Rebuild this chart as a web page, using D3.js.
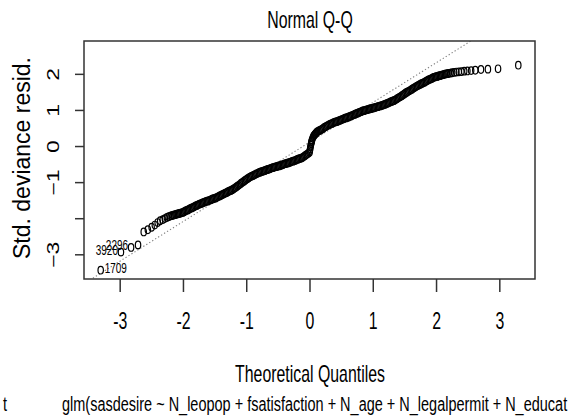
<!DOCTYPE html>
<html><head><meta charset="utf-8">
<script src="https://cdn.jsdelivr.net/npm/d3@7"></script>
<style>html,body{margin:0;padding:0;background:#fff;} svg{display:block;}</style>
</head><body>
<svg id="chart" width="578" height="419"></svg>
<script>
// Theoretical quantiles (x) and standardized deviance residuals (y)
const theoQ = [
 -3.30,-2.98,-2.82,-2.71,-2.62,-2.555,-2.495,-2.445,-2.40,-2.36,-2.32,-2.287,-2.254,-2.226,-2.198,
 -2.18,-2.16,-2.14,-2.12,-2.10,-2.08,-2.06,-2.04,-2.02,-2.00,-1.98,-1.96,-1.94,-1.92,-1.90,-1.88,-1.86,-1.84,
 -1.82,-1.80,-1.78,-1.76,-1.74,-1.72,-1.70,-1.68,-1.66,-1.64,-1.62,-1.60,-1.58,-1.56,-1.54,-1.52,-1.50,-1.48,
 -1.46,-1.44,-1.42,-1.40,-1.38,-1.36,-1.34,-1.32,-1.30,-1.28,-1.26,-1.24,-1.22,-1.20,-1.18,-1.16,-1.14,-1.12,
 -1.10,-1.08,-1.06,-1.04,-1.02,-1.00,-0.98,-0.96,-0.94,-0.92,-0.90,-0.88,-0.86,-0.84,-0.82,-0.80,-0.78,-0.76,
 -0.74,-0.72,-0.70,-0.68,-0.66,-0.64,-0.62,-0.60,-0.58,-0.56,-0.54,-0.52,-0.50,-0.48,-0.46,-0.44,-0.42,-0.40,
 -0.38,-0.36,-0.34,-0.32,-0.30,-0.28,-0.26,-0.24,-0.22,-0.20,-0.18,-0.16,-0.14,-0.12,-0.10,-0.08,-0.06,-0.04,
 -0.02,0.00,0.005,0.01,0.015,0.02,0.025,0.03,0.035,0.04,0.05,0.06,0.07,0.08,0.09,0.10,0.11,0.12,0.14,0.16,
 0.18,0.20,0.22,0.24,0.26,0.28,0.30,0.32,0.34,0.36,0.38,0.40,0.42,0.44,0.46,0.48,0.50,0.52,0.54,0.56,0.58,
 0.60,0.62,0.64,0.66,0.68,0.70,0.72,0.74,0.76,0.78,0.80,0.82,0.84,0.86,0.88,0.90,0.92,0.94,0.96,0.98,1.00,
 1.02,1.04,1.06,1.08,1.10,1.12,1.14,1.16,1.18,1.20,1.22,1.24,1.26,1.28,1.30,1.32,1.34,1.36,1.38,1.40,1.42,
 1.44,1.46,1.48,1.50,1.52,1.54,1.56,1.58,1.60,1.62,1.64,1.66,1.68,1.70,1.72,1.74,1.76,1.78,1.80,1.82,1.84,
 1.86,1.88,1.90,1.92,1.94,1.96,1.98,2.00,2.02,2.04,2.06,2.08,2.10,2.12,2.14,2.16,2.18,
 2.198,2.226,2.254,2.287,2.32,2.36,2.40,2.445,2.495,2.555,2.62,2.71,2.82,2.98,3.30
];
const devResid = [
 -3.44,-2.94,-2.81,-2.74,-2.38,-2.32,-2.25,-2.19,-2.12,-2.07,-2.04,-2.01,-1.98,-1.96,-1.94,
 -1.93,-1.92,-1.91,-1.90,-1.89,-1.88,-1.87,-1.86,-1.85,-1.84,-1.82,-1.80,-1.785,-1.77,-1.75,-1.73,-1.715,-1.70,
 -1.68,-1.66,-1.645,-1.63,-1.61,-1.60,-1.585,-1.57,-1.555,-1.54,-1.53,-1.52,-1.505,-1.49,-1.475,-1.46,-1.45,-1.44,
 -1.42,-1.40,-1.385,-1.37,-1.35,-1.33,-1.315,-1.30,-1.28,-1.26,-1.245,-1.23,-1.21,-1.19,-1.165,-1.14,-1.115,-1.09,
 -1.06,-1.03,-1.005,-0.98,-0.955,-0.93,-0.905,-0.88,-0.86,-0.84,-0.825,-0.81,-0.79,-0.77,-0.755,-0.74,-0.725,-0.71,
 -0.70,-0.69,-0.675,-0.66,-0.65,-0.64,-0.625,-0.61,-0.60,-0.59,-0.58,-0.57,-0.56,-0.55,-0.54,-0.53,-0.515,-0.50,
 -0.49,-0.48,-0.47,-0.46,-0.445,-0.43,-0.42,-0.41,-0.395,-0.38,-0.365,-0.35,-0.34,-0.33,-0.305,-0.28,-0.255,-0.23,
 -0.205,-0.18,-0.13,-0.08,-0.03,0.02,0.06,0.10,0.135,0.17,0.22,0.26,0.285,0.31,0.33,0.35,0.37,0.39,0.41,0.43,
 0.45,0.47,0.495,0.52,0.54,0.56,0.58,0.60,0.615,0.63,0.645,0.66,0.67,0.68,0.695,0.71,0.725,0.74,0.755,0.77,0.78,
 0.79,0.805,0.82,0.835,0.85,0.865,0.88,0.895,0.91,0.925,0.94,0.955,0.97,0.98,0.99,1.00,1.01,1.02,1.03,1.04,1.05,
 1.06,1.07,1.08,1.09,1.10,1.11,1.12,1.13,1.145,1.16,1.175,1.19,1.205,1.22,1.235,1.25,1.265,1.28,1.305,1.33,1.35,
 1.37,1.395,1.42,1.445,1.47,1.49,1.51,1.53,1.55,1.575,1.60,1.62,1.64,1.66,1.68,1.70,1.72,1.735,1.75,1.77,1.79,
 1.81,1.83,1.845,1.86,1.88,1.90,1.91,1.92,1.93,1.94,1.95,1.96,1.97,1.98,1.99,2.00,2.005,
 2.01,2.02,2.03,2.04,2.05,2.055,2.06,2.075,2.08,2.09,2.10,2.12,2.13,2.14,2.24
];
const idIndex = [0, 1, 2];
const idLabels = ["1709", "3920", "2296"];
const xTicks = [-3, -2, -1, 0, 1, 2, 3];
const xTickLabels = ["-3", "-2", "-1", "0", "1", "2", "3"];
const yTicks = [-3, -2, -1, 0, 1, 2];
const yTickLabels = ["\u22123", "", "\u22121", "0", "1", "2"];
const qqLine = [0.105, 1.10]; // intercept, slope
const titleText = "Normal Q-Q";
const xLabelText = "Theoretical Quantiles";
const yLabelText = "Std. deviance resid.";
const captionLeft = "t";
const captionText = "glm(sasdesire ~ N_leopop + fsatisfaction + N_age + N_legalpermit + N_educat";

const SX = 0.69;
const FONT = "'Liberation Sans', Arial, Helvetica, sans-serif";
const TXT = "#000";
const box = {l: 84, r: 535, t: 41, b: 279};

const svg = d3.select("#chart");
svg.append("rect").attr("width", 578).attr("height", 419).attr("fill", "#fff");

const xr = d3.extent(theoQ), xpad = (xr[1] - xr[0]) * 0.04;
const x = d3.scaleLinear().domain([xr[0] - xpad, xr[1] + xpad]).range([box.l, box.r]);
const yr = d3.extent(devResid);
const ylim = [yr[0], yr[1] + (yr[1] - yr[0]) * 0.075];
const ypad = (ylim[1] - ylim[0]) * 0.04;
const y = d3.scaleLinear().domain([ylim[0] - ypad, ylim[1] + ypad]).range([box.b, box.t]);

svg.append("clipPath").attr("id", "plotclip").append("rect")
  .attr("x", box.l).attr("y", box.t).attr("width", box.r - box.l).attr("height", box.b - box.t);

// qq line (dotted, grey)
const xd = x.domain();
svg.append("line").attr("clip-path", "url(#plotclip)")
  .attr("x1", x(xd[0])).attr("y1", y(qqLine[0] + qqLine[1] * xd[0]))
  .attr("x2", x(xd[1])).attr("y2", y(qqLine[0] + qqLine[1] * xd[1]))
  .attr("stroke", "#808080").attr("stroke-width", 1.1).attr("stroke-dasharray", "1.3,2.2");

// points (open circles, horizontally squeezed like the reference)
svg.append("g").selectAll("ellipse").data(theoQ).join("ellipse")
  .attr("cx", (d) => x(d)).attr("cy", (d, i) => y(devResid[i]))
  .attr("rx", 2.7).attr("ry", 3.8)
  .attr("fill", "none").attr("stroke", "#000").attr("stroke-width", 1.2);

// box
svg.append("rect").attr("x", box.l).attr("y", box.t)
  .attr("width", box.r - box.l).attr("height", box.b - box.t)
  .attr("fill", "none").attr("stroke", "#333").attr("stroke-width", 1.5);

// x axis
const xAxis = svg.append("g").attr("transform", `translate(0,${box.b})`)
  .call(d3.axisBottom(x).tickValues(xTicks).tickSize(13).tickFormat((d, i) => xTickLabels[i]));
xAxis.select(".domain").remove();
xAxis.selectAll("line").attr("stroke", "#333").attr("stroke-width", 1.5);
xAxis.selectAll("text").attr("y", 50).attr("dy", 0)
  .attr("transform", `scale(${SX},1)`)
  .attr("font-size", 23).attr("font-family", FONT).attr("fill", TXT);

// y axis
const yAxis = svg.append("g").attr("transform", `translate(${box.l},0)`)
  .call(d3.axisLeft(y).tickValues(yTicks).tickSize(9).tickFormat((d, i) => yTickLabels[i]));
yAxis.select(".domain").remove();
yAxis.selectAll("line").attr("stroke", "#333").attr("stroke-width", 1.5);
yAxis.selectAll("text").attr("x", 0).attr("y", 0).attr("dy", 0)
  .attr("text-anchor", "middle")
  .attr("transform", `translate(${58.5 - box.l},0) scale(${SX},1) rotate(-90)`)
  .attr("font-size", 23).attr("font-family", FONT).attr("fill", TXT);

// id labels (right of the point for the leftmost, left of it for the others, as R's text.id does)
const idMid = d3.mean(d3.extent(idIndex.map((k) => theoQ[k])));
svg.append("g").selectAll("text").data(idIndex).join("text")
  .attr("transform", (d) => {
    const px = x(theoQ[d]), py = y(devResid[d]);
    const right = theoQ[d] <= idMid;
    return `translate(${right ? px + 4 : px - 3},${py - 2.5}) scale(${SX},1)`;
  })
  .attr("text-anchor", (d) => theoQ[d] <= idMid ? "start" : "end")
  .attr("dy", "0.35em")
  .attr("font-size", 14.5).attr("font-family", FONT).attr("fill", TXT)
  .text((d, i) => idLabels[i]);

// title
svg.append("text").attr("transform", `translate(310,28) scale(${SX},1)`)
  .attr("text-anchor", "middle").attr("font-size", 23).attr("font-family", FONT).attr("fill", TXT)
  .text(titleText);
// x label
svg.append("text").attr("transform", `translate(310,382) scale(${SX},1)`)
  .attr("text-anchor", "middle").attr("font-size", 23).attr("font-family", FONT).attr("fill", TXT)
  .text(xLabelText);
// y label
svg.append("text").attr("transform", `translate(30,158) rotate(-90)`)
  .attr("text-anchor", "middle").attr("font-size", 23).attr("font-family", FONT).attr("fill", TXT)
  .text(yLabelText);
// caption
svg.append("text").attr("transform", `translate(3,411) scale(${SX},1)`)
  .attr("font-size", 21).attr("font-family", FONT).attr("fill", TXT).text(captionLeft);
svg.append("text").attr("transform", `translate(62,411) scale(${SX},1)`)
  .attr("font-size", 21).attr("font-family", FONT).attr("fill", TXT).text(captionText);
</script>
</body></html>
